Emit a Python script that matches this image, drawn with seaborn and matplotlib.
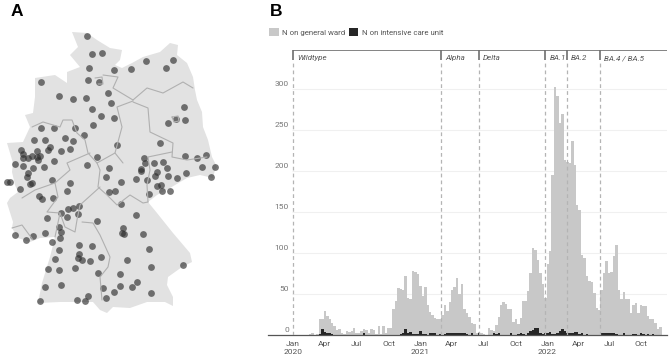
import numpy as np
import pandas as pd
import matplotlib
matplotlib.use('Agg')
import matplotlib.pyplot as plt
from matplotlib.patches import Patch
from matplotlib.transforms import ScaledTranslation
import seaborn as sns

sns.set_style('white')
plt.rcParams['font.family'] = ['Roboto', 'DejaVu Sans']

# panel B: weekly counts, Jan 2020 onwards
general_ward = [0, 0, 0, 0, 0, 0, 0, 1, 3, 0, 1, 19, 19, 29, 23, 20, 15, 11, 6, 7,
                3, 1, 5, 4, 5, 8, 2, 2, 5, 7, 6, 3, 7, 6, 1, 11, 1, 11, 3, 9,
                9, 32, 42, 57, 56, 55, 72, 45, 44, 78, 77, 74, 60, 47, 58, 37, 28, 24, 21, 19,
                19, 24, 36, 29, 40, 55, 58, 70, 50, 62, 32, 27, 22, 15, 13, 3, 4, 2, 1, 0,
                8, 6, 5, 12, 22, 36, 40, 38, 32, 32, 16, 19, 14, 21, 41, 41, 54, 76, 106, 104,
                91, 76, 62, 45, 87, 103, 195, 303, 291, 258, 270, 213, 211, 210, 236, 207, 158, 152, 98, 94,
                72, 66, 65, 51, 33, 30, 55, 76, 90, 76, 77, 96, 110, 55, 44, 53, 44, 44, 27, 37,
                39, 27, 37, 35, 35, 23, 20, 20, 15, 7, 10]
intensive_care = [0, 0, 0, 0, 0, 0, 0, 0, 0, 0, 0, 1, 7, 4, 3, 2, 1, 0, 0, 0,
                  0, 0, 0, 0, 0, 0, 0, 0, 0, 2, 0, 0, 0, 0, 0, 0, 0, 0, 0, 0,
                  0, 0, 0, 0, 1, 3, 7, 2, 4, 1, 1, 1, 5, 1, 1, 0, 2, 2, 2, 0,
                  1, 0, 1, 2, 3, 2, 3, 2, 2, 2, 2, 1, 0, 2, 0, 0, 2, 0, 0, 0,
                  0, 0, 2, 1, 3, 0, 0, 0, 0, 2, 0, 0, 1, 2, 1, 0, 3, 5, 6, 8,
                  8, 3, 1, 3, 3, 4, 1, 1, 2, 5, 7, 5, 2, 3, 3, 4, 4, 1, 2, 0,
                  1, 0, 0, 0, 0, 0, 3, 3, 2, 3, 3, 3, 1, 0, 0, 2, 0, 0, 0, 1,
                  1, 0, 2, 1, 0, 1, 0, 1, 0, 0, 0]
tick_weeks = [0, 12.8, 25.9, 39, 52, 64.7, 77.6, 90.8, 103.8, 116.5, 129.2, 142.2]
tick_labels = ['Jan\n2020', 'Apr', 'Jul', 'Oct', 'Jan\n2021', 'Apr', 'Jul', 'Oct',
               'Jan\n2022', 'Apr', 'Jul', 'Oct']
y_ticks = [0, 50, 100, 150, 200, 250, 300]
variant_names = ['Wildtype', 'Alpha', 'Delta', 'BA.1', 'BA.2', 'BA.4 / BA.5']
variant_weeks = [0, 60.3, 75.9, 102.9, 111.7, 125.3]

# panel A: outline, state borders and sites, read in picture pixels
outline_x = [72, 87, 97, 110, 122, 120, 115, 122, 132, 143, 160, 170, 178, 177, 187, 193, 195, 197, 202, 203,
             208, 212, 217, 215, 213, 200, 187, 170, 157, 148, 157, 173, 190, 192, 182, 168, 167, 173, 173, 165,
             147, 130, 113, 107, 100, 93, 80, 60, 38, 42, 50, 55, 40, 30, 18, 12, 13, 7, 10, 18,
             15, 12, 13, 10, 7, 23, 30, 25, 33, 35, 35, 55, 67, 67, 80, 70, 78]
outline_y = [32, 33, 40, 48, 50, 60, 65, 68, 63, 57, 52, 43, 45, 55, 63, 77, 90, 100, 112, 127,
             140, 157, 167, 170, 178, 175, 178, 188, 195, 202, 213, 233, 253, 262, 267, 277, 285, 297, 306, 302,
             302, 308, 307, 313, 310, 302, 302, 302, 303, 283, 257, 237, 238, 242, 238, 228, 222, 203, 198, 192,
             185, 172, 163, 153, 143, 142, 127, 115, 113, 97, 78, 75, 83, 72, 67, 55, 47]
borders = [
    ([103, 118, 113, 133], [75, 77, 88, 100]),
    ([133, 147, 163, 183, 193], [100, 88, 93, 82, 88]),
    ([133, 117, 122, 115, 123], [101, 107, 127, 153, 163]),
    ([133, 148, 150, 173, 172, 187, 207], [102, 108, 132, 143, 157, 160, 157]),
    ([172, 148, 150, 147, 148], [152, 157, 170, 185, 202]),
    ([115, 97, 100, 98, 107, 117, 130, 143, 148], [153, 163, 170, 187, 195, 205, 195, 203, 202]),
    ([82, 93, 100, 110, 108, 100, 102], [222, 223, 235, 257, 267, 277, 300]),
    ([100, 80, 77, 75, 65, 60, 47, 58, 55], [187, 205, 220, 232, 227, 213, 212, 197, 183]),
    ([60, 55], [213, 237]),
    ([90, 67, 70, 55, 35, 22], [153, 163, 170, 183, 190, 198]),
    ([12, 22, 33], [228, 225, 240]),
    ([32, 43, 60, 63, 72, 77, 85, 88, 97], [127, 122, 127, 120, 120, 133, 140, 153, 163]),
    ([172, 178, 179, 174, 172], [117, 116, 121, 122, 117]),
    ([95, 102, 103, 98], [78, 77, 84, 84]),
]
upper_x = [262, 275, 307, 266, 343, 394, 437, 497, 518, 124, 263, 297, 178, 218, 258, 324, 333, 275, 303, 342,
           279, 553, 527, 554, 505, 122, 163, 224, 252, 102, 134, 196, 220, 150, 145, 182, 211, 350, 479, 63,
           112, 68, 68, 83, 97, 110, 120, 115, 45, 68, 100, 131, 162, 292, 261, 328, 433, 434, 461, 488,
           423, 501, 556, 592, 618, 605, 644]
upper_y = [108, 162, 158, 204, 210, 207, 184, 203, 181, 246, 240, 245, 289, 296, 294, 280, 309, 326, 348, 353,
           376, 320, 356, 360, 370, 383, 385, 385, 406, 419, 419, 414, 424, 441, 450, 452, 448, 436, 430, 450,
           453, 463, 473, 473, 467, 472, 467, 480, 493, 498, 505, 500, 483, 470, 494, 505, 474, 488, 490, 485,
           508, 505, 468, 473, 464, 501, 501]
lower_x = [85, 82, 20, 30, 157, 209, 95, 90, 59, 202, 116, 125, 158, 318, 362, 326, 345, 407, 442, 423,
           470, 466, 505, 531, 558, 633, 472, 482, 487, 509, 447, 364, 238, 218, 203, 182, 234, 200, 142, 408,
           291, 178, 183, 181, 134, 157, 45, 77, 99, 368, 365, 373, 430, 238, 276, 178, 236, 233, 245, 270,
           302, 166, 381, 448, 143, 178, 225, 453, 549, 294, 361, 135, 183, 308, 360, 395, 411, 341, 453, 265,
           318, 119, 232, 255]
lower_y = [10, 20, 36, 36, 30, 40, 40, 43, 58, 64, 77, 87, 85, 22, 37, 66, 63, 26, 30, 2,
           5, 18, 17, 24, 8, 22, 47, 44, 62, 63, 73, 101, 107, 114, 118, 129, 133, 142, 144, 136,
           153, 170, 186, 204, 189, 217, 195, 210, 199, 175, 188, 192, 191, 226, 229, 239, 252, 264, 270, 274,
           260, 267, 271, 238, 298, 300, 294, 292, 285, 310, 312, 350, 345, 354, 347, 352, 337, 367, 368, 378,
           384, 393, 390, 392]

W, H = 669, 360
TEXT = '#555555'
fig = plt.figure(figsize=(W / 100, H / 100), dpi=100)

# panel A
ax_map = fig.add_axes([0, 0, 250 / W, 1])
ax_map.fill(outline_x, outline_y, color='#e2e2e2', lw=0)
for bx, by in borders:
    ax_map.plot(bx, by, color='#b0b0b0', lw=0.8)
sites = pd.DataFrame({'x': np.r_[upper_x, lower_x] / 3,
                      'y': np.r_[np.array(upper_y) / 3, np.array(lower_y) / 3 + 170]})
sns.scatterplot(data=sites, x='x', y='y', s=24, color='#2e2e2e', alpha=0.65, linewidth=0, ax=ax_map)
ax_map.set_xlim(0, 250)
ax_map.set_ylim(H, 0)
ax_map.axis('off')

# panel B
left, right, top, base = 268, 667, 49.5, 335
ax = fig.add_axes([left / W, 1 - base / H, (right - left) / W, (base - top) / H])
weeks = np.arange(len(general_ward))
wk0, wk_scale = 293, 2.45
for v in y_ticks[1:]:
    ax.hlines(v, -0.5, (right - wk0) / wk_scale, color='#f0f0f0', lw=0.8, zorder=0)
sns.barplot(x=weeks, y=general_ward, native_scale=True, width=1, color='#c8c8c8', saturation=1, linewidth=0, ax=ax)
sns.barplot(x=weeks, y=intensive_care, native_scale=True, width=1, color='#262626', saturation=1, linewidth=0, ax=ax)
ax.set_xlim((left - wk0) / wk_scale, (right - wk0) / wk_scale)
ax.set_ylim(0, (base - top) * 50 / 41)
y_top = ax.get_ylim()[1]
for name, wk in zip(variant_names, variant_weeks):
    ax.vlines(wk, 0, y_top - 13, color='#b4b4b4', lw=0.9, linestyles=(0, (3, 2.5)), zorder=3)
    ax.vlines(wk, y_top - 13, y_top, color='#6e6e6e', lw=1.2, zorder=3)
    ax.annotate(name, (wk, y_top), xytext=(3, -4), textcoords='offset points', ha='left', va='top',
                fontsize=5.8, fontstyle='italic', color='#555555')
ax.hlines(y_top - 0.5, 0, (right - wk0) / wk_scale, color='#6e6e6e', lw=1.2, zorder=3)

ax.set_xticks(tick_weeks)
ax.set_xticklabels(tick_labels, fontsize=6, color=TEXT, linespacing=1.45)
ax.set_yticks(y_ticks)
ax.set_yticklabels([str(v) for v in y_ticks], fontsize=6, color='#777777', ha='right')
ax.tick_params(axis='x', length=0, pad=4.5)
ax.tick_params(axis='y', length=0, pad=-15)
shift = ScaledTranslation(0, 1.5 / 72, fig.dpi_scale_trans)
for lab in ax.get_yticklabels():
    lab.set_verticalalignment('bottom')
    lab.set_transform(lab.get_transform() + shift)
sns.despine(ax=ax, left=True, top=True, right=True)
ax.spines['bottom'].set_color('#555555')
ax.spines['bottom'].set_linewidth(0.9)

handles = [Patch(color='#c8c8c8', lw=0), Patch(color='#262626', lw=0)]
fig.legend(handles, ['N on general ward', 'N on intensive care unit'], loc='lower left',
           bbox_to_anchor=(269 / W, 1 - 36 / H), frameon=False, fontsize=5.7, labelcolor=TEXT, ncols=2,
           handlelength=1.2, handleheight=1.2, handletextpad=0.4, columnspacing=0.5,
           borderaxespad=0, borderpad=0)

for letter, lx in zip(['A', 'B'], [10.5, 269.5]):
    fig.text(lx / W, 1 - 16 / H, letter, fontsize=12.5, fontweight='bold', family='Liberation Sans', color='black')

fig.savefig('out.png', dpi=100)
